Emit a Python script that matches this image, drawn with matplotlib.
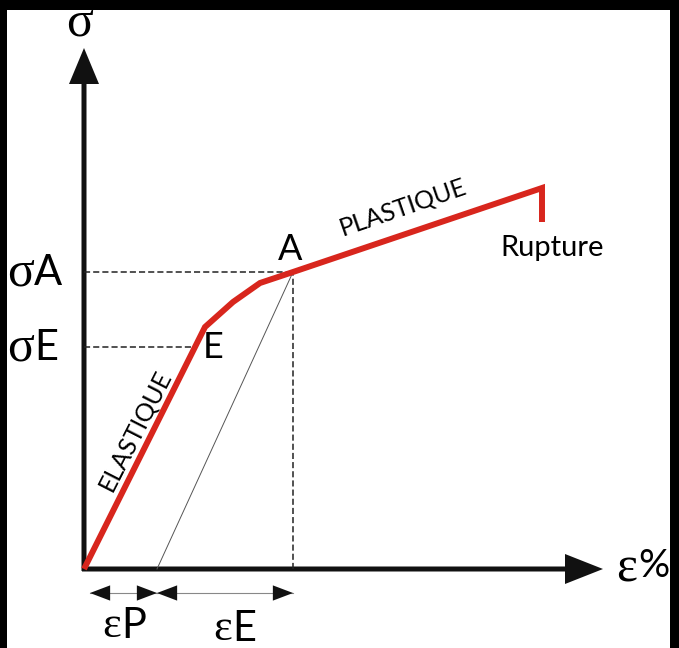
import matplotlib.pyplot as plt
from matplotlib.patches import FancyArrow

# stress-strain curve, units ~ pixels from origin
eps_curve = [0, 121, 149, 176, 209, 458, 458]
sig_curve = [0, 242, 267, 286, 297, 381, 347]

eps_E, sig_E = 111, 222      # end of elastic zone
eps_A, sig_A = 209, 297      # point A
eps_P = 73                   # residual strain after unloading from A
eps_lo = 6                   # left end of the bottom strain arrow

x_axis_end, y_axis_end = 519, 521

RED = "#d8261d"
SANS = ["Lato", "DejaVu Sans"]
SERIF = ["Liberation Serif", "DejaVu Serif"]

fig = plt.figure(figsize=(6.79, 6.48), dpi=100, facecolor="black")
ax = fig.add_axes([7/679, 0, 663/679, 638/648])
ax.set_facecolor("white")
ax.set_xlim(-77, 586)
ax.set_ylim(-79, 559)
ax.set_xticks([])
ax.set_yticks([])
for s in ax.spines.values():
    s.set_visible(False)

# axes arrows
ax.add_patch(FancyArrow(0, -2, 0, y_axis_end + 2, width=5, head_width=30, head_length=36,
                        length_includes_head=True, color="#111111", lw=0))
ax.add_patch(FancyArrow(-2, 0, x_axis_end + 2, 0, width=5, head_width=30, head_length=38,
                        length_includes_head=True, color="#111111", lw=0))

# dashed guides
ax.plot([0, eps_E], [sig_E, sig_E], color="#222222", lw=1.1, ls=(0, (4, 2)))
ax.plot([0, eps_A], [sig_A, sig_A], color="#222222", lw=1.1, ls=(0, (4, 2)))
ax.plot([eps_A, eps_A], [0, sig_A], color="#222222", lw=1.1, ls=(0, (4, 2)))

# unloading line
ax.plot([eps_P, eps_A], [0, sig_A], color="#555555", lw=0.7)

# curve
ax.plot(eps_curve, sig_curve, color=RED, lw=4.3, solid_joinstyle="miter", solid_capstyle="butt")

# bottom strain arrows
for a, b in [(eps_lo, eps_P), (eps_P, eps_A)]:
    ax.plot([a, b], [-24, -24], color="#888888", lw=0.8)
    ax.annotate("", xy=(b, -24), xytext=(a, -24),
                arrowprops=dict(arrowstyle="<|-|>,head_length=1.45,head_width=0.55",
                                mutation_scale=10, color="#111111", lw=0,
                                shrinkA=0, shrinkB=0))

# labels
ax.text(-4, 546, "σ", fontsize=36, family=SERIF, ha="center", va="center", clip_on=True)
ax.text(532, 0, "ε", fontsize=36, family=SERIF, ha="left", va="center")
ax.text(554, 3, "%", fontsize=28, family=SANS, ha="left", va="center")

ax.text(-50, 296, "σ", fontsize=36, family=SERIF, ha="right", va="center")
ax.text(-50, 296, "A", fontsize=30, family=SANS, ha="left", va="center")
ax.text(-50, 221, "σ", fontsize=36, family=SERIF, ha="right", va="center")
ax.text(-50, 221, "E", fontsize=30, family=SANS, ha="left", va="center")

ax.text(37, -57, "ε", fontsize=32, family=SERIF, ha="right", va="center")
ax.text(37, -57, "P", fontsize=30, family=SANS, ha="left", va="center")
ax.text(148, -60, "ε", fontsize=32, family=SERIF, ha="right", va="center")
ax.text(148, -60, "E", fontsize=30, family=SANS, ha="left", va="center")

ax.text(129, 221, "E", fontsize=26, family=SANS, ha="center", va="center")
ax.text(206, 319, "A", fontsize=26, family=SANS, ha="center", va="center")

ax.text(51, 139, "ELASTIQUE", fontsize=18, family=SANS, ha="center", va="center", rotation=63)
ax.text(319, 362, "PLASTIQUE", fontsize=18, family=SANS, ha="center", va="center", rotation=19)
ax.text(468, 321, "Rupture", fontsize=21, family=SANS, ha="center", va="center")

fig.savefig("out.png", dpi=100, facecolor="black")
